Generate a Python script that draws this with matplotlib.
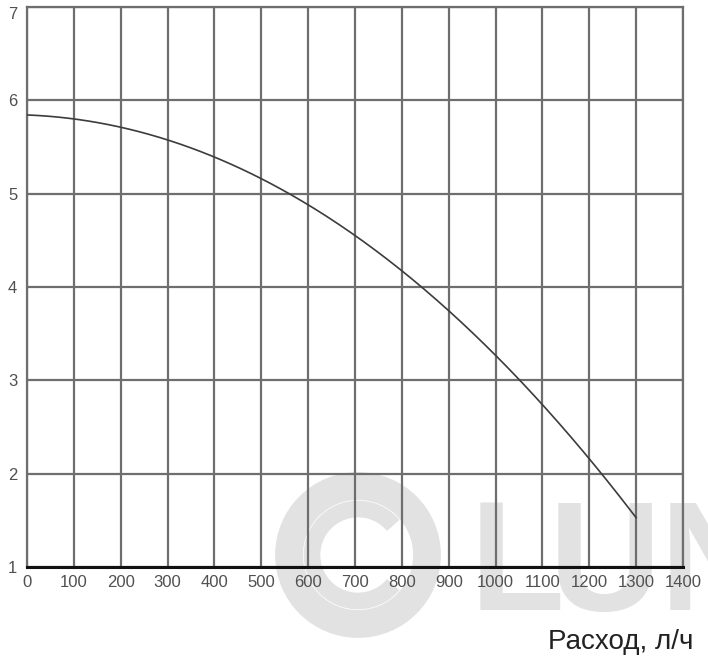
import matplotlib
matplotlib.use("Agg")
import matplotlib.pyplot as plt
from matplotlib.patches import Circle, Arc
import numpy as np

plt.rcParams["font.family"] = ["Liberation Sans", "DejaVu Sans"]

# данные кривой (расход, л/ч -> напор)
flow = [0, 100, 200, 300, 400, 500, 600, 700, 800, 900, 1000, 1100, 1200, 1300]
head = [5.85, 5.79, 5.71, 5.58, 5.39, 5.17, 4.88, 4.55, 4.17, 3.74, 3.27, 2.75, 2.15, 1.53]

x_ticks = list(range(0, 1401, 100))
y_ticks = [1, 2, 3, 4, 5, 6, 7]

fig = plt.figure(figsize=(7.08, 6.63), dpi=100)

# фон с водяным знаком
bg = fig.add_axes([0, 0, 1, 1], zorder=0)
bg.set_xlim(0, 708)
bg.set_ylim(663, 0)
bg.axis("off")
wm = "#e2e2e2"
bg.add_patch(Circle((358, 555), 69, fill=False, lw=20, ec=wm))
bg.add_patch(Arc((358, 555), 92, 92, theta1=40, theta2=320, lw=12, ec=wm))
for letter, xpos in [("L", 470), ("U", 549), ("N", 660)]:
    bg.text(xpos, 610, letter, fontsize=112, fontweight="bold", color=wm,
            ha="left", va="baseline", family="Liberation Sans", clip_on=True)

ax = fig.add_axes([27/708, 1 - 567/663, 656/708, 560/663], zorder=1)
ax.set_facecolor("none")

# сглаживание кривой
xs = np.linspace(flow[0], flow[-1], 300)
coef = np.polyfit(flow, head, 3)
ax.plot(xs, np.polyval(coef, xs), color="#3c3c3c", lw=1.2, zorder=3)

ax.set_xlim(0, 1400)
ax.set_ylim(1, 7)
ax.set_xticks(x_ticks)
ax.set_yticks(y_ticks)
ax.grid(True, color="#6e6e6e", lw=1.6)
ax.tick_params(length=0, labelsize=12, labelcolor="#505050")
ax.tick_params(axis="x", pad=6)
ax.tick_params(axis="y", pad=7)
# верхняя подпись "7" сдвинута вниз, чтобы не обрезалась
ax.get_yticklabels()[-1].set_verticalalignment("top")
for s in ["top", "left", "right"]:
    ax.spines[s].set_color("#6e6e6e")
    ax.spines[s].set_linewidth(1.6)
ax.spines["bottom"].set_color("#111111")
ax.spines["bottom"].set_linewidth(2.2)

fig.text(693/708, 1 - 642/663, "Расход, л/ч", fontsize=20, color="#222222",
         ha="right", va="center")

fig.savefig("out.png", dpi=100)
